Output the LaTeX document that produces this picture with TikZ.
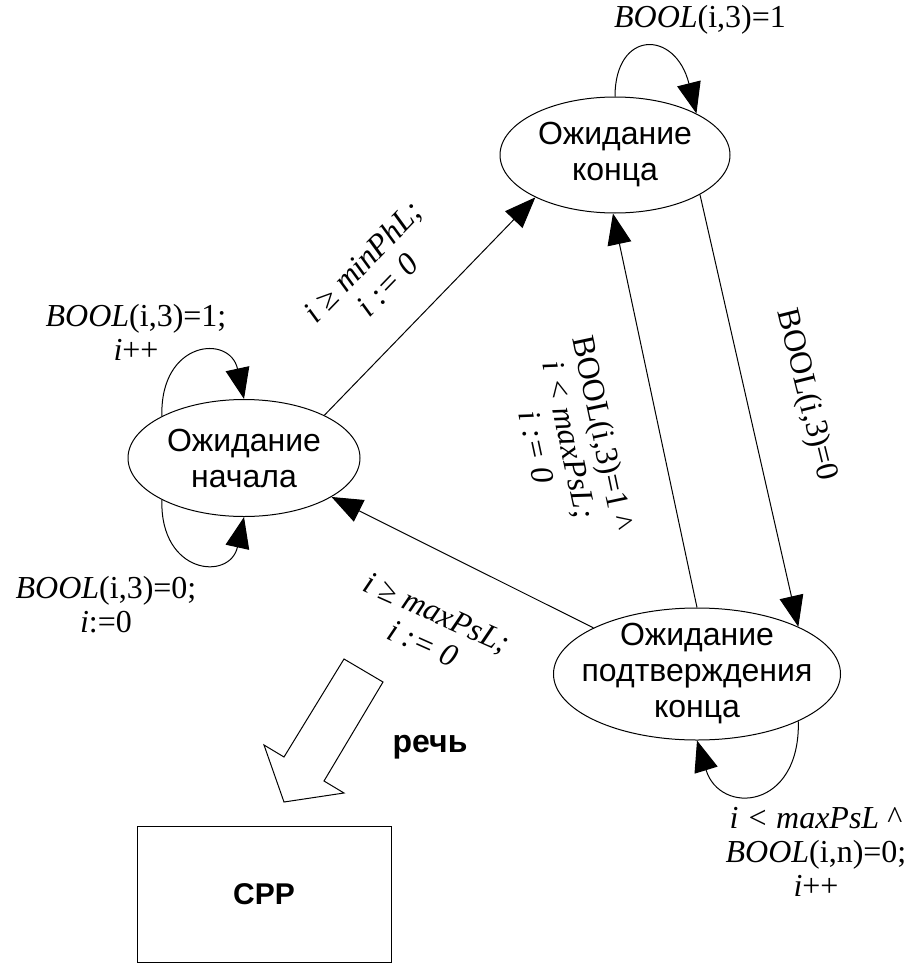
\documentclass[tikz,border=0pt]{standalone}
\usepackage{fontspec}
\setmainfont{Liberation Serif}
\setsansfont{Liberation Sans}
\usetikzlibrary{shapes.geometric,arrows.meta}

\begin{document}
\begin{tikzpicture}[x=1pt,y=-1pt,line width=1pt,
  state/.style={draw,ellipse,inner sep=0pt},
  stname/.style={font=\sffamily\fontsize{32}{36}\selectfont,align=center},
  cond/.style={font=\fontsize{32}{34}\selectfont,align=center},
  arr/.style={-{Triangle[length=31pt,width=24pt]}}]
\useasboundingbox (0,0) rectangle (910,963);

% states
\node[state,minimum width=230pt,minimum height=116pt,label={[stname]center:Ожидание\\конца}] (kon) at (615,155) {};
\node[state,minimum width=232pt,minimum height=117pt,label={[stname]center:Ожидание\\начала}] (nach) at (244,458) {};
\node[state,minimum width=287pt,minimum height=132pt,label={[stname]center:Ожидание\\подтверждения\\конца}] (pod) at (697,674) {};

% transitions
\draw[arr] (nach.28) -- (kon.208);
\draw[arr] (pod.90) -- (kon.268);
\draw[arr] (kon.-25) -- (pod.25);
\draw[arr] (pod.156) -- (nach.-24);

% loops
\draw[arr] (kon.90) .. controls +(0,-67) and +(-21,-84) .. (kon.27);
\draw[arr] (nach.153) .. controls +(-2,-76) and +(-14,-65) .. (nach.90);
\draw[arr] (nach.207) .. controls +(-2,75) and +(-14,64) .. (nach.270);
\draw[arr] (pod.-25) .. controls +(2,89) and +(23,75) .. (pod.270);

% conditions
\node[cond] (ckon) at (700,20) {\textit{BOOL}(i,3)=1};
\node[cond] (cnach1) at (136,332) {\textit{BOOL}(i,3)=1;\\\textit{i}++};
\node[cond] (cnach0) at (106,605) {\textit{BOOL}(i,3)=0;\\\textit{i}:=0};
\node[cond] (cpod) at (816,852) {\textit{i < maxPsL} \textasciicircum\\\textit{BOOL}(i,n)=0;\\\textit{i}++};
\node[cond,rotate=46] (cstart) at (375,273) {\textit{i ≥ minPhL;}\\\textit{i := 0}};
\node[cond,rotate=-78] (cback) at (570,440) {BOOL(i,3)=1 \textasciicircum\\\textit{i < maxPsL;}\\\textit{i := 0}};
\node[cond,rotate=-76] (cend) at (806,395) {BOOL(i,3)=0};
\node[cond,rotate=-24] (creset) at (430,628) {\textit{i ≥ maxPsL;}\\\textit{i := 0}};

% output
\draw (344,659) -- (383,682) -- (324,781) -- (344,793) -- (284,802) -- (264,745) -- (284,757) -- cycle;
\node[font=\sffamily\bfseries\fontsize{32}{38}\selectfont] (speech) at (430,747) {речь};
\node[draw,minimum width=254pt,minimum height=136pt,font=\sffamily\bfseries\fontsize{30}{36}\selectfont] (srr) at (264,894) {СРР};
\end{tikzpicture}
\end{document}
